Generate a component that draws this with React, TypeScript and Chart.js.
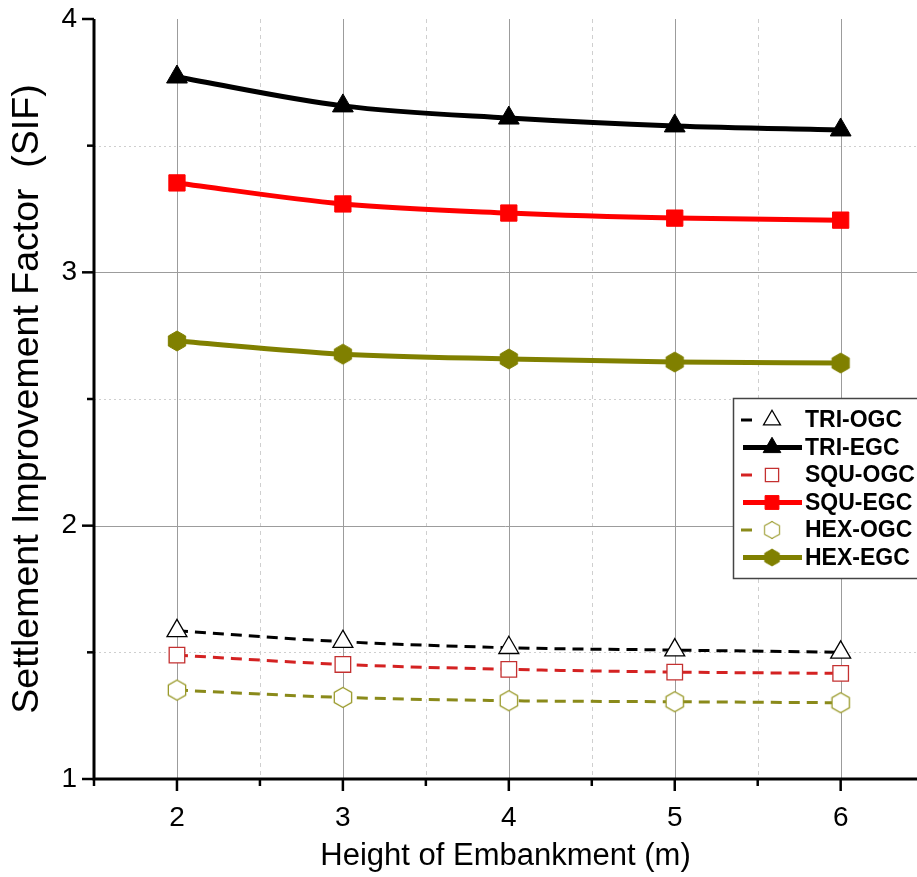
import React, { useEffect, useRef } from 'react';
import { Chart, registerables } from 'chart.js';

Chart.register(...registerables);

// ---- data ----
const heights = [2, 3, 4, 5, 6];
const triOGC = [1.585, 1.542, 1.518, 1.509, 1.5];
const triEGC = [3.771, 3.657, 3.609, 3.578, 3.562];
const squOGC = [1.489, 1.452, 1.433, 1.422, 1.417];
const squEGC = [3.353, 3.27, 3.234, 3.214, 3.206];
const hexOGC = [1.351, 1.322, 1.309, 1.305, 1.301];
const hexEGC = [2.729, 2.677, 2.658, 2.646, 2.642];
const seriesNames = ['TRI-OGC', 'TRI-EGC', 'SQU-OGC', 'SQU-EGC', 'HEX-OGC', 'HEX-EGC'];
const yMajorTicks = [1, 2, 3, 4];
const yMinorTicks = [1.5, 2.5, 3.5];
const xMajorTicks = [2, 3, 4, 5, 6];
const xMinorTicks = [1.5, 2.5, 3.5, 4.5, 5.5];
const xTitle = 'Height of Embankment (m)';
const yTitle = 'Settlement Improvement Factor  (SIF)';

const FONT = '"Liberation Sans", Arial, Helvetica, sans-serif';
const X_MIN = 1.5;
const X_MAX = 6.46;
const Y_MIN = 1;
const Y_MAX = 4;

function hexCanvas(r: number, fill: string, stroke: string | null, lw: number) {
  const pad = lw + 1;
  const w = Math.ceil(2 * r * Math.cos(Math.PI / 6) + 2 * pad);
  const h = Math.ceil(2 * r + 2 * pad);
  const c = document.createElement('canvas');
  c.width = w;
  c.height = h;
  const ctx = c.getContext('2d')!;
  ctx.beginPath();
  for (let k = 0; k < 6; k++) {
    const a = -Math.PI / 2 + (k * Math.PI) / 3;
    const px = w / 2 + r * Math.cos(a);
    const py = h / 2 + r * Math.sin(a);
    if (k) ctx.lineTo(px, py);
    else ctx.moveTo(px, py);
  }
  ctx.closePath();
  ctx.fillStyle = fill;
  ctx.fill();
  if (stroke) {
    ctx.strokeStyle = stroke;
    ctx.lineWidth = lw;
    ctx.stroke();
  }
  return c;
}

const toPts = (arr: number[]) => heights.map((h, i) => ({ x: h, y: arr[i] }));

const gridPlugin = {
  id: 'customGrid',
  beforeDatasetsDraw(chart: any) {
    const { ctx, chartArea, scales } = chart;
    const { left, right, top, bottom } = chartArea;
    const x = scales.x;
    const y = scales.y;
    ctx.save();
    ctx.lineWidth = 1;
    ctx.strokeStyle = '#cfcfcf';
    ctx.setLineDash([4, 4]);
    xMinorTicks.forEach((v) => {
      if (v <= X_MIN) return;
      const px = Math.round(x.getPixelForValue(v)) + 0.5;
      ctx.beginPath();
      ctx.moveTo(px, top);
      ctx.lineTo(px, bottom);
      ctx.stroke();
    });
    ctx.setLineDash([2, 3]);
    yMinorTicks.forEach((v) => {
      const py = Math.round(y.getPixelForValue(v)) + 0.5;
      ctx.beginPath();
      ctx.moveTo(left, py);
      ctx.lineTo(right, py);
      ctx.stroke();
    });
    ctx.setLineDash([]);
    ctx.strokeStyle = '#9c9c9c';
    xMajorTicks.forEach((v) => {
      const px = Math.round(x.getPixelForValue(v)) + 0.5;
      ctx.beginPath();
      ctx.moveTo(px, top);
      ctx.lineTo(px, bottom);
      ctx.stroke();
    });
    yMajorTicks.forEach((v) => {
      if (v === Y_MIN || v === Y_MAX) return;
      const py = Math.round(y.getPixelForValue(v)) + 0.5;
      ctx.beginPath();
      ctx.moveTo(left, py);
      ctx.lineTo(right, py);
      ctx.stroke();
    });
    ctx.restore();
  },
};

const axesPlugin = {
  id: 'customAxes',
  afterDatasetsDraw(chart: any) {
    const { ctx, chartArea, scales } = chart;
    const { left, right, top, bottom } = chartArea;
    const x = scales.x;
    const y = scales.y;
    ctx.save();
    ctx.strokeStyle = '#000';
    ctx.lineWidth = 3;
    ctx.beginPath();
    ctx.moveTo(left, top);
    ctx.lineTo(left, bottom);
    ctx.moveTo(left - 1.5, bottom);
    ctx.lineTo(right, bottom);
    ctx.stroke();
    ctx.lineWidth = 2.5;
    xMajorTicks.forEach((v) => {
      const px = x.getPixelForValue(v);
      ctx.beginPath();
      ctx.moveTo(px, bottom);
      ctx.lineTo(px, bottom + 12);
      ctx.stroke();
    });
    xMinorTicks.forEach((v) => {
      const px = x.getPixelForValue(v);
      ctx.beginPath();
      ctx.moveTo(px, bottom);
      ctx.lineTo(px, bottom + 7);
      ctx.stroke();
    });
    yMajorTicks.forEach((v) => {
      const py = y.getPixelForValue(v);
      ctx.beginPath();
      ctx.moveTo(left, py);
      ctx.lineTo(left - 12, py);
      ctx.stroke();
    });
    yMinorTicks.forEach((v) => {
      const py = y.getPixelForValue(v);
      ctx.beginPath();
      ctx.moveTo(left, py);
      ctx.lineTo(left - 7, py);
      ctx.stroke();
    });
    ctx.restore();
  },
};

function drawMarker(ctx: CanvasRenderingContext2D, ds: any, cx: number, cy: number, scale: number) {
  const style = ds.pointStyle;
  const r = ds.pointRadius * scale;
  ctx.save();
  ctx.fillStyle = ds.pointBackgroundColor;
  ctx.strokeStyle = ds.pointBorderColor;
  ctx.lineWidth = ds.pointBorderWidth;
  if (style === 'triangle') {
    ctx.beginPath();
    ctx.moveTo(cx, cy - r);
    ctx.lineTo(cx + r * Math.sin((2 * Math.PI) / 3), cy - r * Math.cos((2 * Math.PI) / 3));
    ctx.lineTo(cx + r * Math.sin((4 * Math.PI) / 3), cy - r * Math.cos((4 * Math.PI) / 3));
    ctx.closePath();
    ctx.fill();
    ctx.stroke();
  } else if (style === 'rect') {
    const s = r * Math.SQRT1_2;
    ctx.beginPath();
    ctx.rect(cx - s, cy - s, 2 * s, 2 * s);
    ctx.fill();
    ctx.stroke();
  } else if (style && style.width) {
    const w = style.width * scale;
    const h = style.height * scale;
    ctx.drawImage(style, cx - w / 2, cy - h / 2, w, h);
  }
  ctx.restore();
}

const legendPlugin = {
  id: 'customLegend',
  afterDraw(chart: any) {
    const { ctx } = chart;
    const bx = 733;
    const by = 398;
    const bw = 200;
    const bh = 180;
    ctx.save();
    ctx.fillStyle = '#fff';
    ctx.fillRect(bx, by, bw, bh);
    ctx.strokeStyle = '#444';
    ctx.lineWidth = 1.5;
    ctx.strokeRect(bx + 0.5, by + 0.5, bw, bh);
    chart.data.datasets.forEach((ds: any, i: number) => {
      const cy = by + 22 + i * 27.5;
      const isE = !ds.borderDash || ds.borderDash.length === 0;
      ctx.save();
      ctx.strokeStyle = ds.borderColor;
      ctx.lineWidth = ds.borderWidth;
      ctx.beginPath();
      if (isE) {
        ctx.moveTo(743, cy);
        ctx.lineTo(802, cy);
      } else {
        ctx.moveTo(741, cy);
        ctx.lineTo(752, cy);
      }
      ctx.stroke();
      ctx.restore();
      drawMarker(ctx, ds, 772, cy, 0.85);
      ctx.fillStyle = '#000';
      ctx.font = `bold 23px ${FONT}`;
      ctx.textAlign = 'left';
      ctx.textBaseline = 'middle';
      ctx.fillText(seriesNames[i], 805, cy + 1);
    });
    ctx.restore();
  },
};

export default function App() {
  const canvasRef = useRef<HTMLCanvasElement | null>(null);

  useEffect(() => {
    if (!canvasRef.current) return;
    const hexOpen = hexCanvas(10, '#ffffff', '#9a9a2a', 1.3);
    const hexFilled = hexCanvas(10, '#808000', '#808000', 1);

    const chart = new Chart(canvasRef.current, {
      type: 'line',
      data: {
        datasets: [
          {
            label: seriesNames[0],
            data: toPts(triOGC),
            borderColor: '#000000',
            borderWidth: 3,
            borderDash: [11, 7],
            pointStyle: 'triangle',
            pointRadius: 11.5,
            pointBackgroundColor: '#ffffff',
            pointBorderColor: '#000000',
            pointBorderWidth: 1.3,
            cubicInterpolationMode: 'monotone',
          },
          {
            label: seriesNames[1],
            data: toPts(triEGC),
            borderColor: '#000000',
            borderWidth: 5,
            borderDash: [],
            pointStyle: 'triangle',
            pointRadius: 12,
            pointBackgroundColor: '#000000',
            pointBorderColor: '#000000',
            pointBorderWidth: 1,
            cubicInterpolationMode: 'monotone',
          },
          {
            label: seriesNames[2],
            data: toPts(squOGC),
            borderColor: '#d42222',
            borderWidth: 3,
            borderDash: [11, 7],
            pointStyle: 'rect',
            pointRadius: 11,
            pointBackgroundColor: '#ffffff',
            pointBorderColor: '#c43030',
            pointBorderWidth: 1.3,
            cubicInterpolationMode: 'monotone',
          },
          {
            label: seriesNames[3],
            data: toPts(squEGC),
            borderColor: '#ff0000',
            borderWidth: 5,
            borderDash: [],
            pointStyle: 'rect',
            pointRadius: 11.5,
            pointBackgroundColor: '#ff0000',
            pointBorderColor: '#ff0000',
            pointBorderWidth: 1,
            cubicInterpolationMode: 'monotone',
          },
          {
            label: seriesNames[4],
            data: toPts(hexOGC),
            borderColor: '#8a8a1a',
            borderWidth: 3,
            borderDash: [11, 7],
            pointStyle: hexOpen,
            pointRadius: 10,
            pointBackgroundColor: '#ffffff',
            pointBorderColor: '#9a9a2a',
            pointBorderWidth: 1.3,
            cubicInterpolationMode: 'monotone',
          },
          {
            label: seriesNames[5],
            data: toPts(hexEGC),
            borderColor: '#808000',
            borderWidth: 5,
            borderDash: [],
            pointStyle: hexFilled,
            pointRadius: 10,
            pointBackgroundColor: '#808000',
            pointBorderColor: '#808000',
            pointBorderWidth: 1,
            cubicInterpolationMode: 'monotone',
          },
        ] as any,
      },
      options: {
        responsive: false,
        animation: false,
        layout: { autoPadding: false, padding: { top: 19, left: 0, right: 0, bottom: 0 } },
        plugins: {
          legend: { display: false },
          tooltip: { enabled: false },
        },
        scales: {
          x: {
            type: 'linear',
            min: X_MIN,
            max: X_MAX,
            afterBuildTicks: (scale: any) => {
              scale.ticks = xMajorTicks.map((v) => ({ value: v }));
            },
            afterFit: (scale: any) => {
              scale.height = 98;
              scale.paddingLeft = 0;
              scale.paddingRight = 0;
            },
            grid: { display: false, drawTicks: true, tickLength: 22 },
            border: { display: false },
            ticks: {
              color: '#000',
              font: { family: FONT, size: 28 },
              padding: 0,
              maxRotation: 0,
              callback: (v: any) => String(v),
            },
            title: {
              display: true,
              text: xTitle,
              color: '#000',
              font: { family: FONT, size: 31 },
              padding: { top: 0, bottom: 2 },
            },
          },
          y: {
            type: 'linear',
            min: Y_MIN,
            max: Y_MAX,
            afterBuildTicks: (scale: any) => {
              scale.ticks = yMajorTicks.map((v) => ({ value: v }));
            },
            afterFit: (scale: any) => {
              scale.width = 94;
            },
            grid: { display: false, drawTicks: true, tickLength: 17 },
            border: { display: false },
            ticks: {
              color: '#000',
              font: { family: FONT, size: 28 },
              padding: 0,
              callback: (v: any) => String(v),
            },
            title: {
              display: true,
              text: yTitle,
              color: '#000',
              font: { family: FONT, size: 37.5 },
              padding: { top: 5, bottom: 0 },
            },
          },
        },
      },
      plugins: [gridPlugin, axesPlugin, legendPlugin],
    });
    return () => chart.destroy();
  }, []);

  return (
    <div style={{ position: 'absolute', left: 0, top: 0, width: 917, height: 877, background: '#fff' }}>
      <canvas ref={canvasRef} width={917} height={877} style={{ display: 'block' }} />
    </div>
  );
}
